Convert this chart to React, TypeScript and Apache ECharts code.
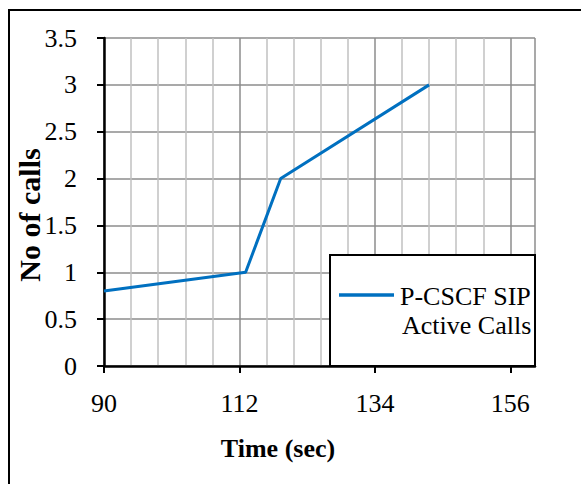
import React, { useEffect, useRef } from "react";
import * as echarts from "echarts";

const TIME_ORIGIN = 90;
const timeSec = [90, 113, 118.7, 142.8];
const activeCalls = [0.8, 1, 2, 3];
const xTickValues = [90, 112, 134, 156];
const xMax = 160;
const seriesName = "P-CSCF SIP Active Calls";
const legendLines = ["P-CSCF SIP", "Active Calls"];
const xTitle = "Time (sec)";
const yTitle = "No of calls";

const FONT = "serif";
const BLUE = "#0070C0";

export default function App() {
  const ref = useRef<HTMLDivElement>(null);
  useEffect(() => {
    if (!ref.current) return;
    const chart = echarts.init(ref.current, undefined, { renderer: "svg" });
    const data = timeSec.map((t, i) => [t - TIME_ORIGIN, activeCalls[i]]);
    const tickOffsets = xTickValues.map((v) => v - TIME_ORIGIN);
    const span = xMax - TIME_ORIGIN;
    const minorStep = 4.4;
    const nMinor = Math.floor(span / minorStep + 1e-9) + 2;
    const vColors: string[] = [];
    for (let i = 0; i < nMinor; i++) {
      vColors.push(i % 5 === 0 || i === nMinor - 1 ? "#8c8c8c" : "#c0c0c0");
    }
    chart.setOption({
      animation: false,
      textStyle: { fontFamily: FONT },
      grid: { left: 104, right: 46, top: 38, bottom: 118, containLabel: false },
      xAxis: [
        {
          type: "value",
          min: 0,
          max: span,
          interval: minorStep,
          axisLine: { show: false },
          axisTick: { show: false },
          axisLabel: { show: false },
          splitLine: { show: true, lineStyle: { color: vColors, width: 1.5 } },
        },
        {
          type: "value",
          position: "bottom",
          min: 0,
          max: span,
          interval: 22,
          axisLine: { show: true, onZero: false, lineStyle: { color: "#000", width: 2.5 } },
          axisTick: {
            show: true,
            inside: false,
            length: 7,
            lineStyle: { color: "#000", width: 2 },
            customValues: tickOffsets,
          },
          axisLabel: {
            show: true,
            customValues: tickOffsets,
            formatter: (v: number) => String(Math.round(v + TIME_ORIGIN)),
            fontSize: 26,
            fontFamily: FONT,
            color: "#000",
            margin: 24,
          },
          splitLine: { show: false },
        },
      ],
      yAxis: {
        type: "value",
        min: 0,
        max: 3.5,
        interval: 0.5,
        axisLine: { show: true, lineStyle: { color: "#000", width: 2.5 } },
        axisTick: { show: true, inside: false, length: 7, lineStyle: { color: "#000", width: 2 } },
        axisLabel: {
          fontSize: 26,
          fontFamily: FONT,
          color: "#000",
          margin: 27,
        },
        splitLine: { show: true, lineStyle: { color: "#8c8c8c", width: 1.5 } },
      },
      series: [
        {
          name: seriesName,
          type: "line",
          xAxisIndex: 0,
          data,
          symbol: "none",
          lineStyle: { color: BLUE, width: 3 },
          itemStyle: { color: BLUE },
          z: 5,
        },
      ],
      graphic: [
        {
          type: "rect",
          shape: { x: 9, y: 10, width: 700, height: 600 },
          style: { fill: "none", stroke: "#000", lineWidth: 2 },
          silent: true,
          z: 100,
        },
        {
          type: "text",
          x: 29,
          y: 215,
          rotation: Math.PI / 2,
          style: {
            text: yTitle,
            fontFamily: FONT,
            fontWeight: "bold",
            fontSize: 30,
            fill: "#000",
            align: "center",
            verticalAlign: "middle",
          },
          z: 100,
        },
        {
          type: "text",
          x: 278,
          y: 448,
          style: {
            text: xTitle,
            fontFamily: FONT,
            fontWeight: "bold",
            fontSize: 26,
            fill: "#000",
            align: "center",
            verticalAlign: "middle",
          },
          z: 100,
        },
        {
          type: "rect",
          shape: { x: 330, y: 255, width: 205, height: 111 },
          style: { fill: "#fff", stroke: "#000", lineWidth: 2 },
          z: 100,
        },
        {
          type: "line",
          shape: { x1: 339, y1: 295, x2: 394, y2: 295 },
          style: { stroke: BLUE, lineWidth: 3.5 },
          z: 101,
        },
        {
          type: "text",
          x: 400,
          y: 296,
          style: {
            text: legendLines[0],
            fontFamily: FONT,
            fontSize: 26,
            fill: "#000",
            align: "left",
            verticalAlign: "middle",
          },
          z: 101,
        },
        {
          type: "text",
          x: 402,
          y: 325,
          style: {
            text: legendLines[1],
            fontFamily: FONT,
            fontSize: 26,
            fill: "#000",
            align: "left",
            verticalAlign: "middle",
          },
          z: 101,
        },
      ],
    });
    return () => chart.dispose();
  }, []);
  return (
    <div
      ref={ref}
      style={{ position: "fixed", left: 0, top: 0, width: 581, height: 484, background: "#fff" }}
    />
  );
}
